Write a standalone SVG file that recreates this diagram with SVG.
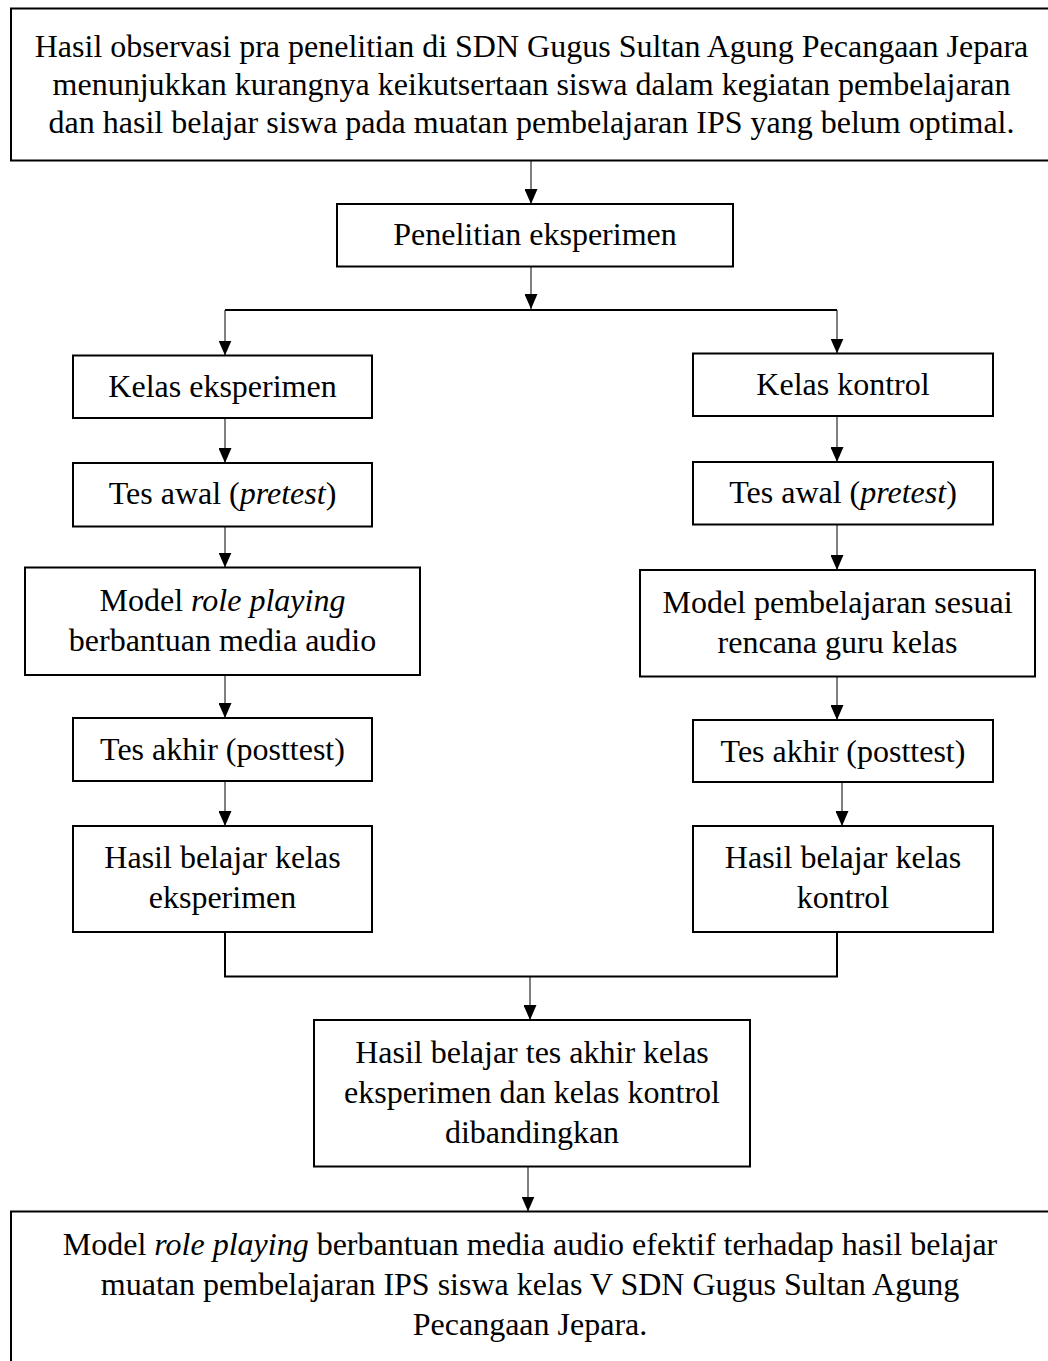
<svg xmlns="http://www.w3.org/2000/svg" width="1048" height="1361" viewBox="0 0 1048 1361">
<style>
  .box { fill: #ffffff; stroke: #000000; stroke-width: 2; }
  .t { font-family: "Liberation Serif", "Times New Roman", serif; font-size: 32px; fill: #000000; text-anchor: middle; }
  .i { font-style: italic; }
  .conn { fill: none; stroke: #000000; stroke-width: 1; }
  .bar { fill: none; stroke: #000000; stroke-width: 2; }
</style>
<defs>
  <marker id="arr" viewBox="0 0 15 13" refX="15" refY="6.5" markerWidth="15" markerHeight="13" markerUnits="userSpaceOnUse" orient="auto">
    <path d="M0,0 L15,6.5 L0,13 z" fill="#000000"/>
  </marker>
</defs>
<rect width="1048" height="1361" fill="#ffffff"/>

<g id="connectors">
  <line class="conn" x1="531" y1="160.5" x2="531" y2="204" marker-end="url(#arr)"/>
  <line class="conn" x1="531" y1="266.5" x2="531" y2="309" marker-end="url(#arr)"/>
  <line class="bar" x1="225" y1="310" x2="837" y2="310"/>
  <line class="conn" x1="225" y1="310" x2="225" y2="355.5" marker-end="url(#arr)"/>
  <line class="conn" x1="837" y1="310" x2="837" y2="353.5" marker-end="url(#arr)"/>
  <line class="conn" x1="225" y1="418" x2="225" y2="463" marker-end="url(#arr)"/>
  <line class="conn" x1="837" y1="416" x2="837" y2="462" marker-end="url(#arr)"/>
  <line class="conn" x1="225" y1="526.5" x2="225" y2="567.5" marker-end="url(#arr)"/>
  <line class="conn" x1="837" y1="524.5" x2="837" y2="570" marker-end="url(#arr)"/>
  <line class="conn" x1="225" y1="675" x2="225" y2="718" marker-end="url(#arr)"/>
  <line class="conn" x1="837" y1="676.5" x2="837" y2="720" marker-end="url(#arr)"/>
  <line class="conn" x1="225" y1="781" x2="225" y2="826" marker-end="url(#arr)"/>
  <line class="conn" x1="842" y1="782" x2="842" y2="826" marker-end="url(#arr)"/>
  <polyline class="bar" points="225,932 225,976.5 837,976.5 837,932"/>
  <line class="conn" x1="530" y1="976.5" x2="530" y2="1020" marker-end="url(#arr)"/>
  <line class="conn" x1="528" y1="1166.5" x2="528" y2="1211.5" marker-end="url(#arr)"/>
</g>

<g id="observasi">
  <rect class="box" x="11" y="8.5" width="1050" height="152"/>
  <text class="t" x="531.5" y="57">Hasil observasi pra penelitian di SDN Gugus Sultan Agung Pecangaan Jepara</text>
  <text class="t" x="531.5" y="95">menunjukkan kurangnya keikutsertaan siswa dalam kegiatan pembelajaran</text>
  <text class="t" x="531.5" y="133">dan hasil belajar siswa pada muatan pembelajaran IPS yang belum optimal.</text>
</g>

<g id="penelitian">
  <rect class="box" x="337" y="204" width="396" height="62.5"/>
  <text class="t" x="535" y="245">Penelitian eksperimen</text>
</g>

<g id="kelas-eksperimen">
  <rect class="box" x="73" y="355.5" width="299" height="62.5"/>
  <text class="t" x="222.5" y="396.5">Kelas eksperimen</text>
</g>

<g id="kelas-kontrol">
  <rect class="box" x="693" y="353.5" width="300" height="62.5"/>
  <text class="t" x="843" y="394.5">Kelas kontrol</text>
</g>

<g id="pretest-eksperimen">
  <rect class="box" x="73" y="463" width="299" height="63.5"/>
  <text class="t" x="222.5" y="504">Tes awal (<tspan class="i">pretest</tspan>)</text>
</g>

<g id="pretest-kontrol">
  <rect class="box" x="693" y="462" width="300" height="62.5"/>
  <text class="t" x="843" y="503">Tes awal (<tspan class="i">pretest</tspan>)</text>
</g>

<g id="model-role-playing">
  <rect class="box" x="25" y="567.5" width="395" height="107.5"/>
  <text class="t" x="222.5" y="611">Model <tspan class="i">role playing</tspan></text>
  <text class="t" x="222.5" y="651">berbantuan media audio</text>
</g>

<g id="model-guru">
  <rect class="box" x="640" y="570" width="395" height="106.5"/>
  <text class="t" x="837.5" y="613">Model pembelajaran sesuai</text>
  <text class="t" x="837.5" y="653">rencana guru kelas</text>
</g>

<g id="posttest-eksperimen">
  <rect class="box" x="73" y="718" width="299" height="63"/>
  <text class="t" x="222.5" y="759.5">Tes akhir (posttest)</text>
</g>

<g id="posttest-kontrol">
  <rect class="box" x="693" y="720" width="300" height="62"/>
  <text class="t" x="843" y="761.5">Tes akhir (posttest)</text>
</g>

<g id="hasil-eksperimen">
  <rect class="box" x="73" y="826" width="299" height="106"/>
  <text class="t" x="222.5" y="868">Hasil belajar kelas</text>
  <text class="t" x="222.5" y="908">eksperimen</text>
</g>

<g id="hasil-kontrol">
  <rect class="box" x="693" y="826" width="300" height="106"/>
  <text class="t" x="843" y="868">Hasil belajar kelas</text>
  <text class="t" x="843" y="908">kontrol</text>
</g>

<g id="dibandingkan">
  <rect class="box" x="314" y="1020" width="436" height="146.5"/>
  <text class="t" x="532" y="1063">Hasil belajar tes akhir kelas</text>
  <text class="t" x="532" y="1103">eksperimen dan kelas kontrol</text>
  <text class="t" x="532" y="1143">dibandingkan</text>
</g>

<g id="kesimpulan">
  <rect class="box" x="11" y="1211.5" width="1050" height="170"/>
  <text class="t" x="530" y="1255">Model <tspan class="i">role playing</tspan> berbantuan media audio efektif terhadap hasil belajar</text>
  <text class="t" x="530" y="1295">muatan pembelajaran IPS siswa kelas V SDN Gugus Sultan Agung</text>
  <text class="t" x="530" y="1335">Pecangaan Jepara.</text>
</g>
</svg>
